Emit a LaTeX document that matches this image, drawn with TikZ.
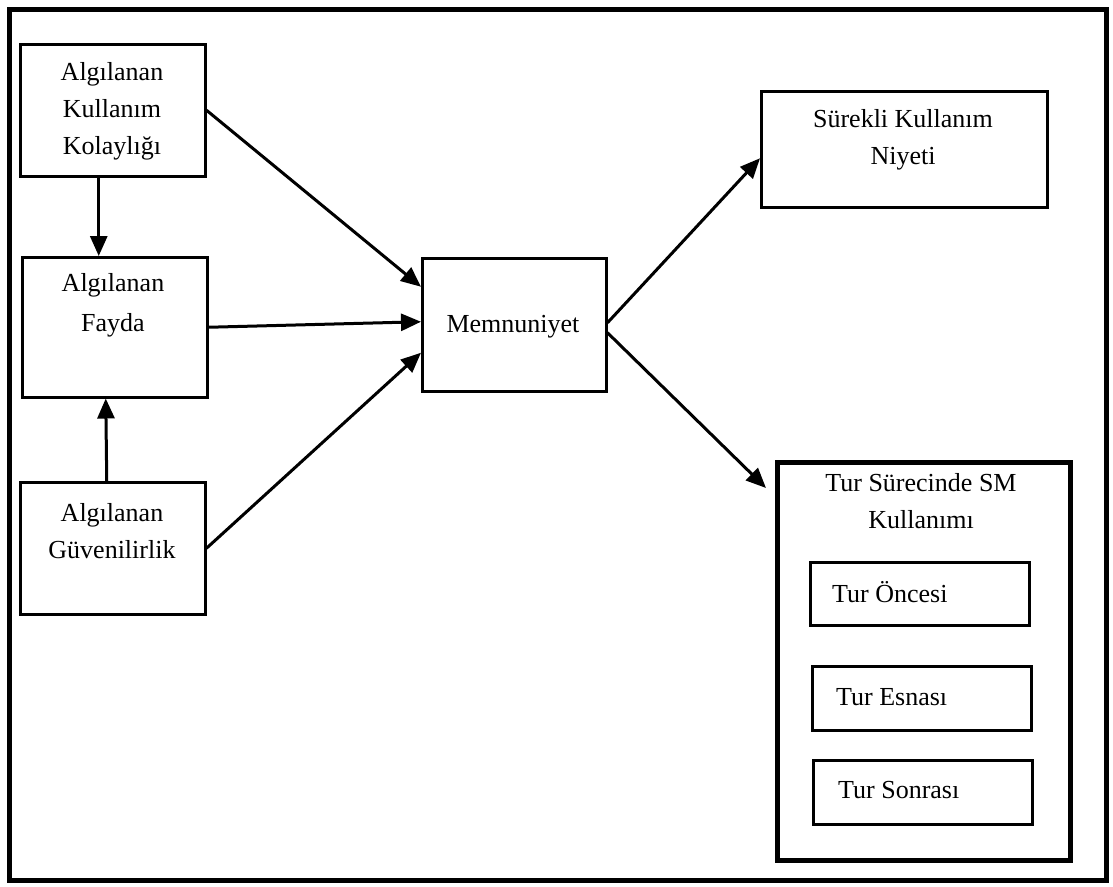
\documentclass[tikz,border=0pt]{standalone}
\usepackage{fontspec}
\setmainfont{Liberation Serif}
\usetikzlibrary{arrows.meta}
\begin{document}
\begin{tikzpicture}[x=1pt,y=-1pt,
  box/.style={draw,line width=2.5pt,rectangle,inner sep=0pt,anchor=north west},
  thickbox/.style={box,line width=5pt},
  txt/.style={font=\fontsize{26}{37}\selectfont,align=center,inner sep=0pt},
  arr/.style={line width=3pt,-{Triangle[length=20pt,width=17pt]}}]
\useasboundingbox (0,0) rectangle (1113,886);
% outer frame
\draw[line width=5pt] (9,9) rectangle (1106,880);

% left column
\node[box,minimum width=185pt,minimum height=132pt] (kol) at (19,43) {};
\node[txt] (kolT) at (112,111) {Algılanan\\Kullanım\\Kolaylığı};
\node[box,minimum width=185pt,minimum height=140pt] (fay) at (21,256) {};
\node[txt,font=\fontsize{26}{40}\selectfont] (fayT) at (113,305) {Algılanan\\Fayda};
\node[box,minimum width=185pt,minimum height=132pt] (guv) at (19,481) {};
\node[txt] (guvT) at (112,531) {Algılanan\\Güvenilirlik};

% centre
\node[box,minimum width=184pt,minimum height=133pt] (mem) at (421,257) {};
\node[txt] (memT) at (513,327) {Memnuniyet};

% right column
\node[box,minimum width=286pt,minimum height=116pt] (sur) at (760,90) {};
\node[txt] (surT) at (903,140) {Sürekli Kullanım\\Niyeti};
\node[thickbox,minimum width=293pt,minimum height=398pt] (tur) at (775,460) {};
\node[txt] (turT) at (921,501) {Tur Sürecinde SM\\Kullanımı};
\node[box,minimum width=219pt,minimum height=63pt] (onc) at (809,561) {};
\node[txt,anchor=west] (oncT) at (832,592) {Tur Öncesi};
\node[box,minimum width=219pt,minimum height=64pt] (esn) at (811,665) {};
\node[txt,anchor=west] (esnT) at (836,697) {Tur Esnası};
\node[box,minimum width=219pt,minimum height=64pt] (son) at (812,759) {};
\node[txt,anchor=west] (sonT) at (838,790) {Tur Sonrası};

% connectors
\draw[arr] ([xshift=-14pt]kol.south) -- ([xshift=-14pt]kol.south |- fay.north);
\draw[arr] ([xshift=-6pt]guv.north) -- ([xshift=-9pt]fay.south);
\draw[arr] (kol.east) -- ([yshift=38pt]mem.west);
\draw[arr] (fay.east) -- ([yshift=3pt]mem.west);
\draw[arr] (guv.east) -- ([yshift=-28pt]mem.west);
\draw[arr] ([yshift=2pt]mem.east) -- ([yshift=-9pt]sur.west);
\draw[arr] ([yshift=-8pt]mem.east) -- ([xshift=-9pt,yshift=-28pt]tur.north west);
\end{tikzpicture}
\end{document}
